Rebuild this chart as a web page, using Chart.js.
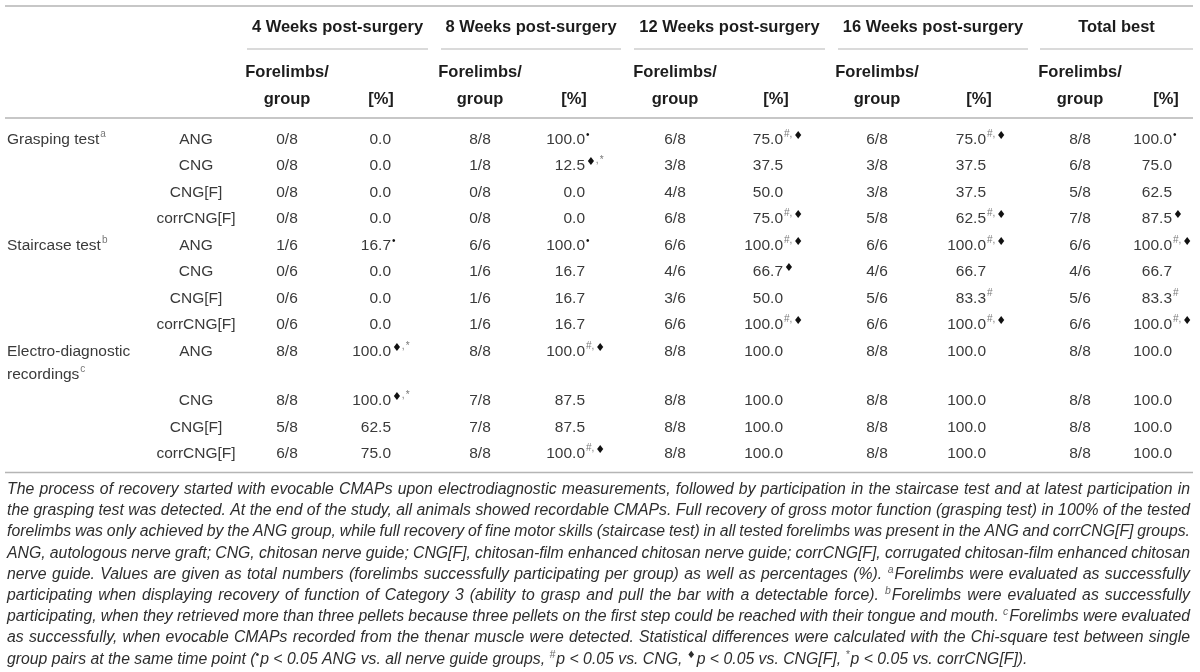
<!DOCTYPE html>
<html>
<head>
<meta charset="utf-8">
<script src="https://cdn.jsdelivr.net/npm/chart.js@4.4.0/dist/chart.umd.min.js"></script>
<style>
  html, body { margin: 0; padding: 0; background: #fff; }
  #tableChart { display: block; }
</style>
</head>
<body>
<canvas id="tableChart" width="1200" height="672"></canvas>
<script>
// Column groups and row labels
const timepoints = ['4 Weeks post-surgery', '8 Weeks post-surgery', '12 Weeks post-surgery', '16 Weeks post-surgery', 'Total best'];
const subHeaders = ['Forelimbs/', 'group', '[%]'];
const tests = ['Grasping test', 'Staircase test', 'Electro-diagnostic recordings'];
const testNotes = ['a', 'b', 'c'];
const testSizes = [8, 6, 8];
const groups = ['ANG', 'CNG', 'CNG[F]', 'corrCNG[F]'];

// Forelimbs successfully participating (rows: grasping x4, staircase x4, electro x4)
const success4w = [0, 0, 0, 0, 1, 0, 0, 0, 8, 8, 5, 6];
const success8w = [8, 1, 0, 0, 6, 1, 1, 1, 8, 7, 7, 8];
const success12w = [6, 3, 4, 6, 6, 4, 3, 6, 8, 8, 8, 8];
const success16w = [6, 3, 3, 5, 6, 4, 5, 6, 8, 8, 8, 8];
const successTotal = [8, 6, 5, 7, 6, 4, 5, 6, 8, 8, 8, 8];

// Percentages as printed
const percent4w = [0.0, 0.0, 0.0, 0.0, 16.7, 0.0, 0.0, 0.0, 100.0, 100.0, 62.5, 75.0];
const percent8w = [100.0, 12.5, 0.0, 0.0, 100.0, 16.7, 16.7, 16.7, 100.0, 87.5, 87.5, 100.0];
const percent12w = [75.0, 37.5, 50.0, 75.0, 100.0, 66.7, 50.0, 100.0, 100.0, 100.0, 100.0, 100.0];
const percent16w = [75.0, 37.5, 37.5, 62.5, 100.0, 66.7, 83.3, 100.0, 100.0, 100.0, 100.0, 100.0];
const percentTotal = [100.0, 75.0, 62.5, 87.5, 100.0, 66.7, 83.3, 100.0, 100.0, 100.0, 100.0, 100.0];

// Significance marks (• vs all guides, # vs CNG, ♦ vs CNG[F], * vs corrCNG[F])
const marks4w = ['', '', '', '', '•', '', '', '', '♦,*', '♦,*', '', ''];
const marks8w = ['•', '♦,*', '', '', '•', '', '', '', '#,♦', '', '', '#,♦'];
const marks12w = ['#,♦', '', '', '#,♦', '#,♦', '♦', '', '#,♦', '', '', '', ''];
const marks16w = ['#,♦', '', '', '#,♦', '#,♦', '', '#', '#,♦', '', '', '', ''];
const marksTotal = ['•', '', '', '♦', '#,♦', '', '#', '#,♦', '', '', '', ''];

// Footnote, one entry per printed line (^x = superscript character)
const footnoteLines = [
  'The process of recovery started with evocable CMAPs upon electrodiagnostic measurements, followed by participation in the staircase test and at latest participation in',
  'the grasping test was detected. At the end of the study, all animals showed recordable CMAPs. Full recovery of gross motor function (grasping test) in 100% of the tested',
  'forelimbs was only achieved by the ANG group, while full recovery of fine motor skills (staircase test) in all tested forelimbs was present in the ANG and corrCNG[F] groups.',
  'ANG, autologous nerve graft; CNG, chitosan nerve guide; CNG[F], chitosan-film enhanced chitosan nerve guide; corrCNG[F], corrugated chitosan-film enhanced chitosan',
  'nerve guide. Values are given as total numbers (forelimbs successfully participating per group) as well as percentages (%). ^aForelimbs were evaluated as successfully',
  'participating when displaying recovery of function of Category 3 (ability to grasp and pull the bar with a detectable force). ^bForelimbs were evaluated as successfully',
  'participating, when they retrieved more than three pellets because three pellets on the first step could be reached with their tongue and mouth. ^cForelimbs were evaluated',
  'as successfully, when evocable CMAPs recorded from the thenar muscle were detected. Statistical differences were calculated with the Chi-square test between single',
  'group pairs at the same time point (^•p < 0.05 ANG vs. all nerve guide groups, ^#p < 0.05 vs. CNG, ^♦p < 0.05 vs. CNG[F], ^*p < 0.05 vs. corrCNG[F]).'
];

const successByTime = [success4w, success8w, success12w, success16w, successTotal];
const percentByTime = [percent4w, percent8w, percent12w, percent16w, percentTotal];
const marksByTime = [marks4w, marks8w, marks12w, marks16w, marksTotal];

// Layout (pixel units of the hidden linear scales)
const FONT = '"Liberation Sans", Arial, sans-serif';
const SYM_FONT = '"DejaVu Sans", "Liberation Sans", sans-serif';
const layout = {
  ruleLeft: 5, ruleRight: 1193,
  topRule: 6, spanHead: 27, spanRule: 49, sub1: 72, sub2: 99, headRule: 118,
  firstRow: 138, rowStep: 26.5, lineStep: 23, bottomGap: 20,
  noteTop: 489, noteStep: 21.2, noteLeft: 7, noteRight: 1190,
  labelX: 7, labelWidth: 150, groupX: 196,
  fracX: [287, 480, 675, 877, 1080],
  pctRight: [391, 585, 783, 986, 1172],
  pctHead: [381, 574, 776, 979, 1166],
  spanL: [247, 441, 634, 838, 1040],
  spanR: [428, 621, 825, 1028, 1193]
};
const bodyFont = '15.5px ' + FONT;
const headFont = 'bold 16.5px ' + FONT;
const noteFont = 'italic 15.8px ' + FONT;
const textColor = '#3a3a3a';
const headColor = '#1c1c1c';
const ruleColor = '#b5b5b5';

// wrap test labels to the first column width
const measureCtx = document.createElement('canvas').getContext('2d');
measureCtx.font = bodyFont;
function wrap(text, width) {
  const lines = [];
  let line = '';
  text.split(' ').forEach(w => {
    const test = line ? line + ' ' + w : w;
    if (line && measureCtx.measureText(test).width > width) { lines.push(line); line = w; }
    else line = test;
  });
  lines.push(line);
  return lines;
}
const testLines = tests.map(t => wrap(t, layout.labelWidth));

// row positions, rows after a wrapped label move down
const rowY = [];
const rowGroup = [];
const rowSize = [];
let yPos = layout.firstRow;
tests.forEach((t, ti) => {
  groups.forEach((g, gi) => {
    rowY.push(yPos);
    rowGroup.push(g);
    rowSize.push(testSizes[ti]);
    yPos += layout.rowStep;
    if (gi === 0) yPos += (testLines[ti].length - 1) * layout.lineStep;
  });
});
const bottomRule = rowY[rowY.length - 1] + layout.bottomGap;

const datasets = [{
  label: 'group',
  kind: 'group',
  texts: rowGroup,
  data: rowY.map(y => ({ x: layout.groupX, y }))
}];
timepoints.forEach((tp, t) => {
  datasets.push({
    label: tp + ' forelimbs/group',
    kind: 'fraction',
    texts: successByTime[t].map((v, i) => v + '/' + rowSize[i]),
    data: rowY.map(y => ({ x: layout.fracX[t], y }))
  });
  datasets.push({
    label: tp + ' [%]',
    kind: 'percent',
    texts: percentByTime[t].map(v => v.toFixed(1)),
    marks: marksByTime[t],
    data: rowY.map(y => ({ x: layout.pctRight[t], y }))
  });
});

function supStyle(ch) {
  if (ch === '♦') return { font: '11px ' + SYM_FONT, color: '#111', rise: 5 };
  if (ch === '•') return { font: '10px ' + FONT, color: '#111', rise: 6 };
  return { font: '10px ' + FONT, color: '#777', rise: 7 };
}

// superscripts after a text whose baseline is at (x, base)
function drawMarks(ctx, x, base, marks) {
  let cx = x + 1;
  ctx.textAlign = 'left';
  for (const ch of marks) {
    const s = supStyle(ch);
    ctx.font = s.font;
    ctx.fillStyle = s.color;
    ctx.fillText(ch, cx, base - s.rise);
    cx += ctx.measureText(ch).width + (ch === ',' ? 1 : 0);
  }
}

// footnote words: split superscript markers into pieces
function pieces(word) {
  const out = [];
  let buf = '';
  for (let i = 0; i < word.length; i++) {
    if (word[i] === '^') {
      if (buf) { out.push({ t: buf, sup: false }); buf = ''; }
      const ch = [...word.slice(i + 1)][0];
      out.push({ t: ch, sup: true });
      i += ch.length;
    } else buf += word[i];
  }
  if (buf) out.push({ t: buf, sup: false });
  return out;
}
function pieceFont(p) {
  if (!p.sup) return noteFont;
  if (p.t === '♦') return '10px ' + SYM_FONT;
  return 'italic 10.5px ' + FONT;
}

const tablePlugin = {
  id: 'tableText',
  afterDatasetsDraw(chart) {
    const ctx = chart.ctx;
    const xs = chart.scales.x;
    const ys = chart.scales.y;
    const px = v => xs.getPixelForValue(v);
    const py = v => ys.getPixelForValue(v);
    ctx.save();

    // rules
    const rule = (x1, x2, y, w) => {
      ctx.strokeStyle = ruleColor;
      ctx.lineWidth = w;
      ctx.beginPath();
      ctx.moveTo(px(x1), py(y));
      ctx.lineTo(px(x2), py(y));
      ctx.stroke();
    };
    rule(layout.ruleLeft, layout.ruleRight, layout.topRule, 1.5);
    rule(layout.ruleLeft, layout.ruleRight, layout.headRule, 1.5);
    rule(layout.ruleLeft, layout.ruleRight, bottomRule, 1.5);
    timepoints.forEach((tp, t) => rule(layout.spanL[t], layout.spanR[t], layout.spanRule, 1));

    // headers
    ctx.font = headFont;
    ctx.fillStyle = headColor;
    ctx.textBaseline = 'middle';
    ctx.textAlign = 'center';
    timepoints.forEach((tp, t) => {
      ctx.fillText(tp, px((layout.spanL[t] + layout.spanR[t]) / 2), py(layout.spanHead));
      ctx.fillText(subHeaders[0], px(layout.fracX[t]), py(layout.sub1));
      ctx.fillText(subHeaders[1], px(layout.fracX[t]), py(layout.sub2));
      ctx.fillText(subHeaders[2], px(layout.pctHead[t]), py(layout.sub2));
    });

    // test labels with note letters
    ctx.textBaseline = 'alphabetic';
    tests.forEach((t, ti) => {
      const y0 = rowY[ti * groups.length];
      testLines[ti].forEach((line, li) => {
        const base = py(y0 + li * layout.lineStep) + 5.5;
        ctx.font = bodyFont;
        ctx.fillStyle = textColor;
        ctx.textAlign = 'left';
        ctx.fillText(line, px(layout.labelX), base);
        if (li === testLines[ti].length - 1) {
          const w = ctx.measureText(line).width;
          ctx.font = '10px ' + FONT;
          ctx.fillStyle = '#777';
          ctx.fillText(testNotes[ti], px(layout.labelX) + w + 1, base - 7);
        }
      });
    });

    // cells, placed at the dataset points
    chart.data.datasets.forEach((ds, di) => {
      const meta = chart.getDatasetMeta(di);
      meta.data.forEach((pt, i) => {
        const base = pt.y + 5.5;
        ctx.font = bodyFont;
        ctx.fillStyle = textColor;
        if (ds.kind === 'percent') {
          ctx.textAlign = 'right';
          ctx.fillText(ds.texts[i], pt.x, base);
          if (ds.marks[i]) drawMarks(ctx, pt.x, base, ds.marks[i]);
        } else {
          ctx.textAlign = 'center';
          ctx.fillText(ds.texts[i], pt.x, base);
        }
      });
    });

    // footnote, justified except the last line
    ctx.textAlign = 'left';
    footnoteLines.forEach((line, li) => {
      const words = line.split(' ').map(w => pieces(w));
      const widths = words.map(ps => ps.reduce((s, p) => {
        ctx.font = pieceFont(p);
        return s + ctx.measureText(p.t).width + (p.sup ? 1 : 0);
      }, 0));
      ctx.font = noteFont;
      const space = ctx.measureText(' ').width;
      const total = widths.reduce((a, b) => a + b, 0);
      const avail = px(layout.noteRight) - px(layout.noteLeft);
      const justified = li < footnoteLines.length - 1;
      const gap = justified ? Math.max(2, (avail - total) / (words.length - 1)) : space;
      const squeeze = justified && total + gap * (words.length - 1) > avail
        ? avail / (total + gap * (words.length - 1)) : 1;
      const base = py(layout.noteTop + li * layout.noteStep) + 5;
      let cx = px(layout.noteLeft);
      words.forEach(ps => {
        ps.forEach(p => {
          ctx.font = pieceFont(p);
          ctx.fillStyle = p.sup && p.t !== '♦' && p.t !== '•' ? '#666' : '#2e2e2e';
          const w = ctx.measureText(p.t).width;
          ctx.fillText(p.t, cx, p.sup ? base - 6 : base, w * squeeze);
          cx += (w + (p.sup ? 1 : 0)) * squeeze;
        });
        cx += gap * squeeze;
      });
    });

    ctx.restore();
  }
};

const ctx = document.getElementById('tableChart').getContext('2d');
const tableChart = new Chart(ctx, {
  type: 'scatter',
  data: { datasets },
  options: {
    responsive: false,
    animation: false,
    events: [],
    layout: { padding: 0 },
    elements: { point: { radius: 0, hoverRadius: 0 } },
    plugins: {
      legend: { display: false },
      tooltip: { enabled: false }
    },
    scales: {
      x: { type: 'linear', min: 0, max: 1200, display: false },
      y: { type: 'linear', min: 0, max: 672, reverse: true, display: false }
    }
  },
  plugins: [tablePlugin]
});
</script>
</body>
</html>
